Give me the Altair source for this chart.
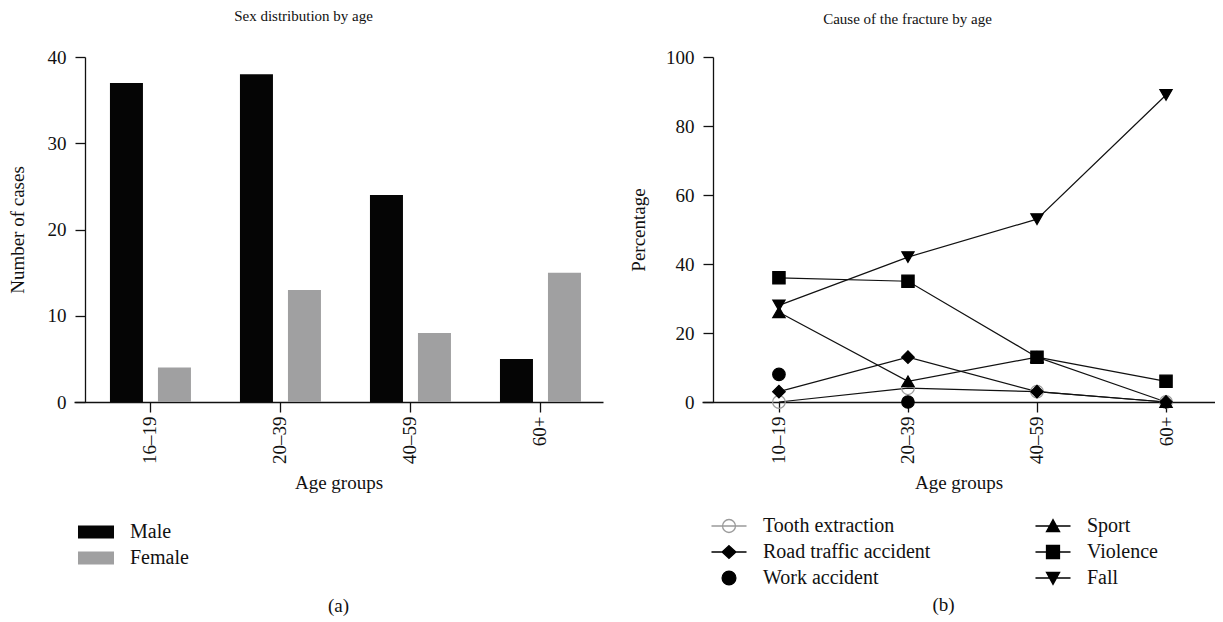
import altair as alt
import pandas as pd

FONT = "Liberation Serif"
INK = "#111111"

# ---------------- Panel (a): sex distribution by age ----------------
ages_a = ["16–19", "20–39", "40–59", "60+"]
sexes = ["Male", "Female"]
male = [37, 38, 24, 5]
female = [4, 13, 8, 15]
sex_colors = ["#050505", "#a0a0a1"]

# ---------------- Panel (b): cause of the fracture by age ----------------
ages_b = ["10–19", "20–39", "40–59", "60+"]
causes = ["Tooth extraction", "Road traffic accident", "Work accident",
          "Sport", "Violence", "Fall"]
tooth = [0, 4, 3, 0]
road = [3, 13, 3, 0]
work = [8, 0, None, None]
sport = [26, 6, 13, 0]
violence = [36, 35, 13, 6]
fall = [28, 42, 53, 89]

marker_shape = {"Tooth extraction": "circle", "Road traffic accident": "diamond",
                "Work accident": "circle", "Sport": "triangle-up",
                "Violence": "square", "Fall": "triangle-down"}
marker_size = {"Tooth extraction": 160, "Road traffic accident": 150,
               "Work accident": 170, "Sport": 190, "Violence": 180,
               "Fall": 190}
marker_fill = {"Tooth extraction": "transparent"}
marker_stroke = {"Tooth extraction": "#9b9b9b"}
LINE = "M-2.92,0H2.92"
legend_path = {
    "Tooth extraction": LINE + "M-1.08,0A1.08,1.08,0,1,1,1.08,0A1.08,1.08,0,1,1,-1.08,0Z",
    "Road traffic accident": LINE + "M0,-1.05L1.15,0L0,1.05L-1.15,0Z",
    "Work accident": "M-1.15,0A1.15,1.15,0,1,1,1.15,0A1.15,1.15,0,1,1,-1.15,0Z",
    "Sport": LINE + "M-1.1,0.95L0,-1.05L1.1,0.95Z",
    "Violence": LINE + "M-1.08,-1.08H1.08V1.08H-1.08Z",
    "Fall": LINE + "M-1.1,-0.95L0,1.05L1.1,-0.95Z",
}

# ---------------- tables ----------------
rows_a = []
for a, m, f in zip(ages_a, male, female):
    rows_a.append({"age": a, "sex": "Male", "n": m})
    rows_a.append({"age": a, "sex": "Female", "n": f})
df_a = pd.DataFrame(rows_a)

series = {"Tooth extraction": tooth, "Road traffic accident": road,
          "Work accident": work, "Sport": sport, "Violence": violence,
          "Fall": fall}
rows_b = []
for c in causes:
    for a, v in zip(ages_b, series[c]):
        if v is not None:
            rows_b.append({"age": a, "cause": c, "pct": v,
                           "joined": c != "Work accident",
                           "rank": causes.index(c)})
df_b = pd.DataFrame(rows_b)

# ---------------- panel (a) ----------------
xa_scale = alt.Scale(paddingInner=0.377, paddingOuter=0.223, align=0.62)
ya = alt.Y("n:Q", scale=alt.Scale(domain=[0, 40], nice=False),
           axis=alt.Axis(values=[0, 10, 20, 30, 40], title="Number of cases",
                         offset=-11, tickSize=10, labelPadding=9,
                         titlePadding=20))
leg_a = alt.Legend(title=None, orient="none", legendX=12, legendY=465,
                   symbolType="M-2.77,-1H2.77V1H-2.77Z", symbolSize=169,
                   symbolStrokeWidth=0, labelOffset=24, rowPadding=6,
                   padding=0, labelFontSize=20, labelLimit=300)

bars = alt.Chart(df_a).mark_bar().encode(
    x=alt.X("age:N", sort=ages_a, scale=xa_scale,
            axis=alt.Axis(title="Age groups", labelAngle=270, labelAlign="right",
                          labelBaseline="middle", tickSize=10, labelPadding=4,
                          titlePadding=10)),
    xOffset=alt.XOffset("sex:N", sort=sexes,
                        scale=alt.Scale(paddingInner=0.3125, paddingOuter=0)),
    y=ya,
    color=alt.Color("sex:N", sort=sexes,
                    scale=alt.Scale(domain=sexes, range=sex_colors),
                    legend=leg_a),
)
title_a = alt.Chart(df_a).mark_point(opacity=0).encode(
    x=alt.X("age:N", sort=ages_a,
            axis=alt.Axis(orient="top", title="Sex distribution by age",
                          domain=False, ticks=False, labels=False,
                          titlePadding=34, titleX=229, titleFontSize=15)),
)
panel_a = alt.layer(bars, title_a).resolve_axis(x="independent").properties(
    width=529, height=345,
    title=alt.Title("(a)", orient="bottom", anchor="middle", offset=104,
                    fontSize=19, font=FONT, fontWeight="normal", color=INK),
)

# ---------------- panel (b) ----------------
xb_scale = alt.Scale(type="point", padding=0.488, align=0.611)
xb = alt.X("age:N", sort=ages_b, scale=xb_scale,
           axis=alt.Axis(title="Age groups", labelAngle=270, labelAlign="right",
                         labelBaseline="middle", tickSize=10, labelPadding=4,
                         titlePadding=10))
xb_plain = alt.X("age:N", sort=ages_b, scale=xb_scale, axis=None)
yb = alt.Y("pct:Q", scale=alt.Scale(domain=[0, 100], nice=False),
           axis=alt.Axis(values=[0, 20, 40, 60, 80, 100], title="Percentage",
                         offset=-11, tickSize=10, labelPadding=9,
                         titlePadding=17))

lines = alt.Chart(df_b).transform_filter("datum.joined").mark_line(
    color=INK, strokeWidth=1.2).encode(x=xb, y=yb, detail="cause:N")

points = alt.Chart(df_b).mark_point(strokeWidth=1.2, opacity=1).encode(
    x=xb_plain, y=yb,
    shape=alt.Shape("cause:N", scale=alt.Scale(
        domain=causes, range=[marker_shape[c] for c in causes]), legend=None),
    fill=alt.Fill("cause:N", scale=alt.Scale(
        domain=causes, range=[marker_fill.get(c, "#000000") for c in causes]),
        legend=None),
    stroke=alt.Stroke("cause:N", scale=alt.Scale(
        domain=causes, range=[marker_stroke.get(c, "#000000") for c in causes]),
        legend=None),
    size=alt.Size("cause:N", scale=alt.Scale(
        domain=causes, range=[marker_size[c] for c in causes]), legend=None),
    order=alt.Order("rank:Q"),
)

leg_b = alt.Legend(title=None, orient="none", legendX=17, legendY=459,
                   columns=2, columnPadding=101, rowPadding=6,
                   symbolSize=144, symbolStrokeWidth=1.3, symbolOpacity=1,
                   labelOffset=24, padding=0, labelFontSize=20, labelLimit=300)
legend_layer = alt.Chart(df_b).mark_point(opacity=0).encode(
    x=xb_plain, y=yb,
    shape=alt.Shape("cause:N", scale=alt.Scale(
        domain=causes, range=[legend_path[c] for c in causes]),
        legend=leg_b),
    fill=alt.Fill("cause:N", scale=alt.Scale(
        domain=causes,
        range=[marker_fill.get(c, "#000000") for c in causes]),
        legend=leg_b),
    stroke=alt.Stroke("cause:N", scale=alt.Scale(
        domain=causes,
        range=[marker_stroke.get(c, "#000000") for c in causes]),
        legend=leg_b),
)
title_b = alt.Chart(df_b).mark_point(opacity=0).encode(
    x=alt.X("age:N", sort=ages_b, scale=xb_scale,
            axis=alt.Axis(orient="top", title="Cause of the fracture by age",
                          domain=False, ticks=False, labels=False,
                          titlePadding=31, titleX=205, titleFontSize=15)),
    y=yb,
)
panel_b = alt.layer(lines, points, legend_layer, title_b).resolve_scale(
    shape="independent", fill="independent", stroke="independent",
    size="independent").resolve_axis(x="independent").properties(
    width=513, height=345,
    title=alt.Title("(b)", orient="bottom", anchor="middle", offset=8, dx=-15,
                    fontSize=19, font=FONT, fontWeight="normal", color=INK),
)

chart = alt.hconcat(panel_a, panel_b, spacing=99, bounds="flush").properties(
    padding={"left": 0, "top": 0, "right": 0, "bottom": 0},
).configure_view(stroke=None).configure_axis(
    labelFont=FONT, titleFont=FONT, labelFontSize=19, titleFontSize=19,
    titleFontWeight="normal", labelColor=INK, titleColor=INK,
    domainColor=INK, tickColor=INK, domainWidth=1.3, tickWidth=1.3, grid=False,
).configure_legend(labelFont=FONT, labelFontSize=20, labelColor=INK)

chart.save("out.html", embed_options={"renderer": "svg", "actions": False})
